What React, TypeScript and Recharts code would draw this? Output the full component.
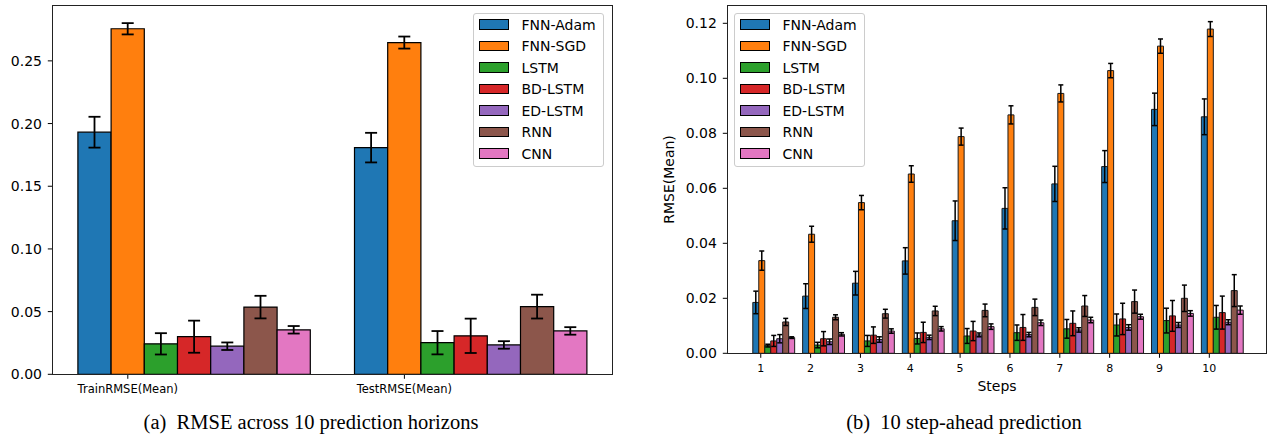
import React from 'react';
import { BarChart, Bar, XAxis, YAxis, ErrorBar } from 'recharts';

const MODELS = ['FNN-Adam', 'FNN-SGD', 'LSTM', 'BD-LSTM', 'ED-LSTM', 'RNN', 'CNN'];
const COLORS = ['#1f77b4', '#ff7f0e', '#2ca02c', '#d62728', '#9467bd', '#8c564b', '#e377c2'];

// (a) mean RMSE across the horizons, one value per model
const setLabels = ['TrainRMSE(Mean)', 'TestRMSE(Mean)'];
const trainMean = [0.1931, 0.2756, 0.0243, 0.03, 0.0224, 0.0536, 0.0355];
const trainErr = [0.0123, 0.0045, 0.0085, 0.0128, 0.003, 0.009, 0.003];
const testMean = [0.1808, 0.2646, 0.0252, 0.0307, 0.0234, 0.054, 0.0346];
const testErr = [0.0118, 0.0048, 0.0093, 0.0137, 0.003, 0.0095, 0.003];
const leftTicks = [0, 0.05, 0.1, 0.15, 0.2, 0.25];

// (b) RMSE per prediction step
const steps = [1, 2, 3, 4, 5, 6, 7, 8, 9, 10];
const adam = [0.0185, 0.0208, 0.0255, 0.0336, 0.0482, 0.0527, 0.0616, 0.0679, 0.0887, 0.086];
const adamErr = [0.0041, 0.0045, 0.0043, 0.0048, 0.0072, 0.0075, 0.0064, 0.0058, 0.0059, 0.0065];
const sgd = [0.0337, 0.0433, 0.0548, 0.0652, 0.0788, 0.0867, 0.0945, 0.1028, 0.1117, 0.1179];
const sgdErr = [0.0035, 0.0029, 0.0026, 0.003, 0.0031, 0.0033, 0.0031, 0.0026, 0.0026, 0.0027];
const lstm = [0.0028, 0.003, 0.0045, 0.0054, 0.0063, 0.0075, 0.0089, 0.0103, 0.0119, 0.0131];
const lstmErr = [0.0005, 0.001, 0.002, 0.002, 0.0027, 0.0028, 0.0034, 0.004, 0.0045, 0.0043];
const bdLstm = [0.0045, 0.0053, 0.0066, 0.0076, 0.0081, 0.0094, 0.0109, 0.0125, 0.0136, 0.0148];
const bdLstmErr = [0.002, 0.0026, 0.003, 0.0037, 0.0035, 0.0047, 0.0045, 0.0057, 0.0056, 0.006];
const edLstm = [0.0053, 0.0042, 0.005, 0.0058, 0.0067, 0.0068, 0.0085, 0.0094, 0.0103, 0.0113];
const edLstmErr = [0.0015, 0.001, 0.001, 0.0008, 0.0007, 0.0008, 0.0008, 0.001, 0.0009, 0.0009];
const rnn = [0.0114, 0.0131, 0.0144, 0.0154, 0.0156, 0.0167, 0.0172, 0.0188, 0.02, 0.0228];
const rnnErr = [0.0013, 0.0009, 0.0016, 0.0017, 0.0023, 0.003, 0.0038, 0.0042, 0.0048, 0.0058];
const cnn = [0.0057, 0.0069, 0.0081, 0.0089, 0.0097, 0.0111, 0.0121, 0.0133, 0.0145, 0.0157];
const cnnErr = [0.0003, 0.0006, 0.0008, 0.0008, 0.001, 0.001, 0.001, 0.0009, 0.001, 0.0015];
const rightTicks = [0, 0.02, 0.04, 0.06, 0.08, 0.1, 0.12];

const stepMeans = [adam, sgd, lstm, bdLstm, edLstm, rnn, cnn];
const stepErrs = [adamErr, sgdErr, lstmErr, bdLstmErr, edLstmErr, rnnErr, cnnErr];

const FONT = '"DejaVu Sans", sans-serif';

const leftData = setLabels.map((label, j) => {
  const means = j === 0 ? trainMean : testMean;
  const errs = j === 0 ? trainErr : testErr;
  const row: any = { label };
  MODELS.forEach((_, i) => {
    row['m' + i] = means[i];
    row['e' + i] = errs[i];
  });
  return row;
});

const rightData = steps.map((s, j) => {
  const row: any = { step: String(s) };
  MODELS.forEach((_, i) => {
    row['m' + i] = stepMeans[i][j];
    row['e' + i] = stepErrs[i][j];
  });
  return row;
});

// matplotlib puts the tick under the 2nd bar of each group, not the group centre
const makeTick = (shift: number, fontSize: number) => (props: any) => {
  const { x, y, payload } = props;
  const cx = x - shift;
  return (
    <g>
      <line x1={cx} x2={cx} y1={y} y2={y + 4.5} stroke="#000" strokeWidth={1} />
      <text x={cx} y={y + 18.7} textAnchor="middle" fontSize={fontSize} fontFamily={FONT} fill="#000">
        {payload.value}
      </text>
    </g>
  );
};

const LegendBox = ({ left, top, width }: { left: number; top: number; width: number }) => (
  <div
    style={{
      position: 'absolute', left, top, width, height: 154.5, boxSizing: 'border-box',
      border: '1px solid #cccccc', borderRadius: 3, background: 'rgba(255,255,255,0.8)', paddingTop: 0.25,
    }}
  >
    {MODELS.map((m, i) => (
      <div key={m} style={{ height: 21.5, display: 'flex', alignItems: 'center' }}>
        <div style={{ marginLeft: 4.8, width: 30, height: 10.5, boxSizing: 'border-box', background: COLORS[i], border: '1px solid #000' }} />
        <span style={{ marginLeft: 12.4, fontSize: 14, fontFamily: FONT, color: '#000', lineHeight: 1 }}>{m}</span>
      </div>
    ))}
  </div>
);

const Frame = ({ left, top, width, height }: { left: number; top: number; width: number; height: number }) => (
  <div style={{ position: 'absolute', left: left - 0.5, top: top - 0.5, width: width + 1, height: height + 1, boxSizing: 'border-box', border: '1px solid #222', pointerEvents: 'none' }} />
);

const Caption = ({ center, text }: { center: number; text: string }) => (
  <div
    style={{
      position: 'absolute', left: center - 250, width: 500, top: 412, textAlign: 'center', whiteSpace: 'pre',
      fontFamily: '"Liberation Serif", serif', fontSize: 20.5, lineHeight: '20.5px', color: '#000',
    }}
  >
    {text}
  </div>
);

const LEFT_BAR = 33.2;
const RIGHT_BAR = 5.98;

export default function App() {
  return (
    <div style={{ position: 'absolute', left: 0, top: 0, width: 1271, height: 438, background: '#fff', overflow: 'hidden' }}>
      <div style={{ position: 'absolute', left: 0, top: 0 }}>
        <BarChart width={640} height={438} data={leftData} barGap={0} margin={{ top: 5.7, right: 27.7, left: 0, bottom: 33.7 }}>
          <XAxis
            dataKey="label"
            height={30}
            padding={{ left: 3.6, right: 3.2 }}
            axisLine={false}
            tickLine={false}
            tickSize={0}
            tickMargin={0}
            interval={0}
            tick={makeTick(2 * LEFT_BAR, 11.5)}
          />
          <YAxis
            width={52.3}
            domain={[0, 0.294]}
            ticks={leftTicks}
            tickFormatter={(v: number) => v.toFixed(2)}
            axisLine={false}
            tickSize={4.5}
            tickMargin={5.8}
            tickLine={{ stroke: '#000' }}
            tick={{ fill: '#000', fontSize: 14, fontFamily: FONT }}
          />
          {MODELS.map((m, i) => (
            <Bar key={m} dataKey={'m' + i} name={m} fill={COLORS[i]} stroke="#000" strokeWidth={1.2} barSize={LEFT_BAR} isAnimationActive={false}>
              <ErrorBar dataKey={'e' + i} width={6} stroke="#000" strokeWidth={1.8} />
            </Bar>
          ))}
        </BarChart>
      </div>
      <Frame left={52.3} top={5.7} width={560} height={368.6} />
      <LegendBox left={473.3} top={12.7} width={131} />
      <Caption center={311} text={'(a)  RMSE across 10 prediction horizons'} />

      <div style={{ position: 'absolute', left: 640, top: 0 }}>
        <BarChart width={631} height={438} data={rightData} barGap={0} margin={{ top: 5.7, right: 4.3, left: 0, bottom: 58.7 }}>
          <XAxis
            dataKey="step"
            height={26}
            padding={{ left: 21.5, right: 19.5 }}
            axisLine={false}
            tickLine={false}
            tickSize={0}
            tickMargin={0}
            interval={0}
            tick={makeTick(2 * RIGHT_BAR + 1, 11)}
            label={{ value: 'Steps', position: 'bottom', offset: 1.3, fill: '#000', fontSize: 14, fontFamily: FONT }}
          />
          <YAxis
            width={87.3}
            domain={[0, 0.1264]}
            ticks={rightTicks}
            tickFormatter={(v: number) => v.toFixed(2)}
            axisLine={false}
            tickSize={4.5}
            tickMargin={6}
            tickLine={{ stroke: '#000' }}
            tick={{ fill: '#000', fontSize: 14, fontFamily: FONT }}
            label={{ value: 'RMSE(Mean)', angle: -90, position: 'insideLeft', offset: 29, fill: '#000', fontSize: 14, fontFamily: FONT, style: { textAnchor: 'middle' } }}
          />
          {MODELS.map((m, i) => (
            <Bar key={m} dataKey={'m' + i} name={m} fill={COLORS[i]} stroke="#1a1a1a" strokeWidth={1} barSize={RIGHT_BAR} isAnimationActive={false}>
              <ErrorBar dataKey={'e' + i} width={2.5} stroke="#000" strokeWidth={1.5} />
            </Bar>
          ))}
        </BarChart>
      </div>
      <Frame left={727.3} top={5.7} width={539.4} height={347.6} />
      <LegendBox left={734.3} top={12.7} width={130.4} />
      <Caption center={964} text={'(b)  10 step-ahead prediction'} />
    </div>
  );
}
